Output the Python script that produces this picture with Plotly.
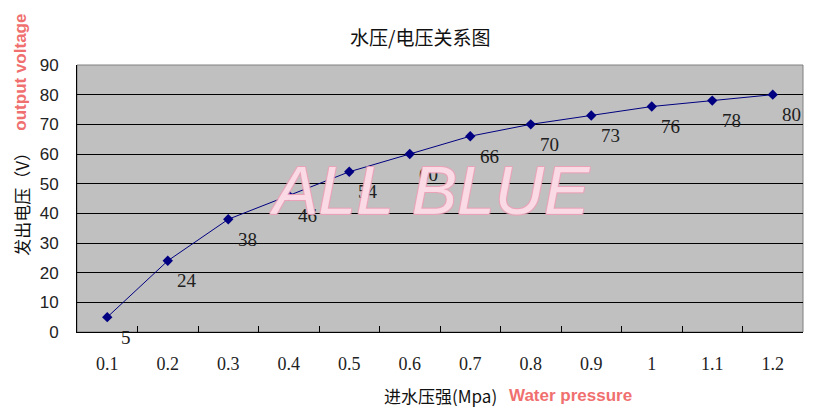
import plotly.graph_objects as go

pressure_labels = ["0.1", "0.2", "0.3", "0.4", "0.5", "0.6", "0.7", "0.8", "0.9", "1", "1.1", "1.2"]
voltage = [5, 24, 38, 46, 54, 60, 66, 70, 73, 76, 78, 80]
y_ticks = [0, 10, 20, 30, 40, 50, 60, 70, 80, 90]

fig = go.Figure()
fig.add_trace(go.Scatter(
    x=pressure_labels, y=voltage, mode="lines+markers",
    line=dict(color="#000080", width=1),
    marker=dict(symbol="diamond", size=8, color="#000080"),
    showlegend=False, hoverinfo="x+y",
))

annotations = []
for i, v in enumerate(voltage):
    annotations.append(dict(
        x=i, y=v, xref="x", yref="y", text=str(v), showarrow=False,
        xshift=19, yshift=-20, xanchor="center", yanchor="middle",
        font=dict(family="Liberation Serif", size=19, color="#202020"),
    ))

def label(text, x, y, font, angle=0):
    return dict(text=text, x=x, y=y, xref="paper", yref="paper", showarrow=False,
                xanchor="center", yanchor="middle", textangle=angle, font=font)

annotations += [
    label("水压/电压关系图", 0.4725, 1.105,
          dict(family="Noto Sans CJK SC", size=19, color="#111111")),
    label("进水压强(Mpa)", 0.5, -0.236,
          dict(family="Noto Sans CJK SC", size=17, color="#111111")),
    label("Water pressure", 0.68, -0.236,
          dict(family="Liberation Sans", size=17, color="#f07070", weight="bold")),
    label("发出电压（V）", -0.0775, 0.494,
          dict(family="Noto Sans CJK SC", size=17, color="#111111"), -90),
    label("output voltage", -0.0775, 0.974,
          dict(family="Liberation Sans", size=17, color="#f07070", weight="bold"), -90),
    label("ALL BLUE", 0.486, 0.532,
          dict(family="Liberation Sans", size=68, color="rgba(255,242,246,0.7)", style="italic",
               shadow="1px 1px 0 #f0a0b8, -1px -1px 0 #f0a0b8, 1px -1px 0 #f0a0b8, -1px 1px 0 #f0a0b8")),
]

fig.update_layout(
    width=817, height=416,
    margin=dict(l=69, r=22, t=57, b=92, autoexpand=False),
    paper_bgcolor="white", plot_bgcolor="#C0C0C0",
    annotations=annotations,
    xaxis=dict(
        type="category", range=[-0.5, 11.5], tickson="boundaries",
        ticks="inside", ticklen=6, tickcolor="black",
        showgrid=False, showline=True, linecolor="black", linewidth=1,
        mirror=False, zeroline=False, ticklabelstandoff=15,
        tickfont=dict(family="Liberation Serif", size=18, color="#222222"),
    ),
    yaxis=dict(
        range=[0, 90], tickvals=y_ticks, ticks="",
        showgrid=True, gridcolor="black", gridwidth=1,
        showline=True, linecolor="black", linewidth=1, zeroline=False,
        ticklabelstandoff=14,
        tickfont=dict(family="Liberation Sans", size=17, color="#222222"),
    ),
    shapes=[dict(type="rect", xref="paper", yref="paper", x0=0, y0=0, x1=1, y1=1,
                 line=dict(color="#808080", width=1), layer="below")],
)

fig.write_html("out.html")
